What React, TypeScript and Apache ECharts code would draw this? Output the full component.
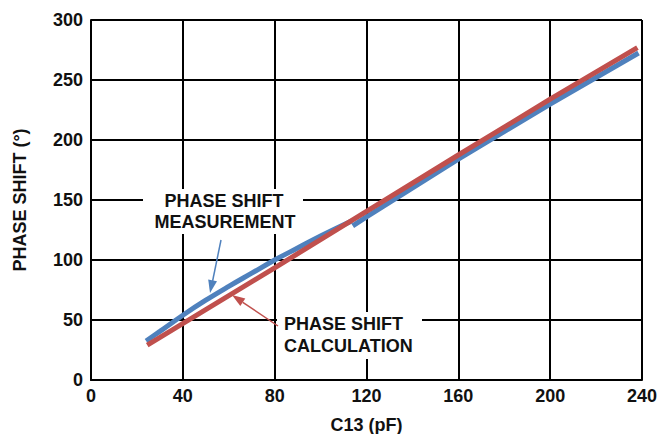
import React, { useEffect, useRef } from "react";
import * as echarts from "echarts";

// C13 (pF) vs phase shift (degrees)
const measurementLowX = [24, 30, 40, 50, 60, 70, 80, 90, 100, 113.5];
const measurementLowY = [32.5, 40.5, 54, 66.5, 78, 89, 100, 110, 120, 132.5];
const measurementHighX = [114, 120, 160, 200, 238.5];
const measurementHighY = [128.5, 136, 184, 230, 272.5];
const calculationX = [24.5, 80, 120, 160, 200, 238];
const calculationY = [29, 93.5, 140.5, 187.5, 234, 277];

const xTicks = { min: 0, max: 240, interval: 40 };
const yTicks = { min: 0, max: 300, interval: 50 };

const measLabel = ["PHASE SHIFT", "MEASUREMENT"];
const calcLabel = ["PHASE SHIFT", "CALCULATION"];

const BLUE = "#4f81bd";
const RED = "#c0504d";
const FONT = 'Arial, "Liberation Sans", sans-serif';

const zip = (xs: number[], ys: number[]) => xs.map((x, i) => [x, ys[i]]);

export default function App() {
  const ref = useRef<HTMLDivElement>(null);
  useEffect(() => {
    if (!ref.current) return;
    const chart = echarts.init(ref.current, undefined, { renderer: "svg" });
    const lineSeries = (data: number[][], color: string, smooth: number) => ({
      type: "line",
      data,
      smooth,
      showSymbol: false,
      symbol: "none",
      lineStyle: { color, width: 5 },
      itemStyle: { color },
      silent: true,
    });
    const textStyle = { font: `bold 18px ${FONT}`, fill: "#111" };
    chart.setOption({
      animation: false,
      grid: { left: 91, right: 17, top: 20, bottom: 54, outerBoundsMode: "none", containLabel: false },
      xAxis: {
        type: "value",
        ...xTicks,
        name: "C13 (pF)",
        nameLocation: "middle",
        nameGap: 36,
        nameTextStyle: { fontSize: 18, fontWeight: "bold", fontFamily: FONT, color: "#111" },
        axisLine: { show: true, lineStyle: { color: "#000", width: 2 } },
        axisTick: { show: false },
        axisLabel: { fontSize: 18, fontWeight: "bold", fontFamily: FONT, color: "#111", margin: 7 },
        splitLine: { show: true, lineStyle: { color: "#000", width: 2 } },
      },
      yAxis: {
        type: "value",
        ...yTicks,
        name: "PHASE SHIFT (°)",
        nameLocation: "middle",
        nameGap: 62,
        nameTextStyle: { fontSize: 18, fontWeight: "bold", fontFamily: FONT, color: "#111" },
        axisLine: { show: true, lineStyle: { color: "#000", width: 2 } },
        axisTick: { show: false },
        axisLabel: { fontSize: 18, fontWeight: "bold", fontFamily: FONT, color: "#111", margin: 8 },
        splitLine: { show: true, lineStyle: { color: "#000", width: 2 } },
      },
      series: [
        lineSeries(zip(measurementLowX, measurementLowY), BLUE, 0.4),
        lineSeries(zip(measurementHighX, measurementHighY), BLUE, 0),
        lineSeries(zip(calculationX, calculationY), RED, 0),
      ],
      graphic: [
        { type: "rect", shape: { x: 143, y: 189, width: 160, height: 45 }, style: { fill: "#fff" }, z: 100 },
        { type: "text", x: 224, y: 201, style: { ...textStyle, text: measLabel[0], align: "center", verticalAlign: "middle" }, z: 101 },
        { type: "text", x: 225, y: 222, style: { ...textStyle, text: measLabel[1], align: "center", verticalAlign: "middle" }, z: 101 },
        { type: "rect", shape: { x: 277, y: 312, width: 145, height: 47 }, style: { fill: "#fff" }, z: 100 },
        { type: "text", x: 284, y: 324, style: { ...textStyle, text: calcLabel[0], align: "left", verticalAlign: "middle" }, z: 101 },
        { type: "text", x: 284, y: 346, style: { ...textStyle, text: calcLabel[1], align: "left", verticalAlign: "middle" }, z: 101 },
        { type: "line", shape: { x1: 221, y1: 240, x2: 212.6, y2: 281 }, style: { stroke: BLUE, lineWidth: 1.5 }, z: 101 },
        { type: "polygon", shape: { points: [[210, 293], [217, 281.2], [208.2, 279.4]] }, style: { fill: BLUE }, z: 101 },
        { type: "line", shape: { x1: 278, y1: 326, x2: 242.8, y2: 302.3 }, style: { stroke: RED, lineWidth: 1.5 }, z: 101 },
        { type: "polygon", shape: { points: [[232, 295], [245.3, 298.6], [240.3, 306]] }, style: { fill: RED }, z: 101 },
      ],
    });
    return () => chart.dispose();
  }, []);
  return (
    <div
      ref={ref}
      style={{ position: "fixed", left: 0, top: 0, width: 659, height: 434, background: "#fff" }}
    />
  );
}
